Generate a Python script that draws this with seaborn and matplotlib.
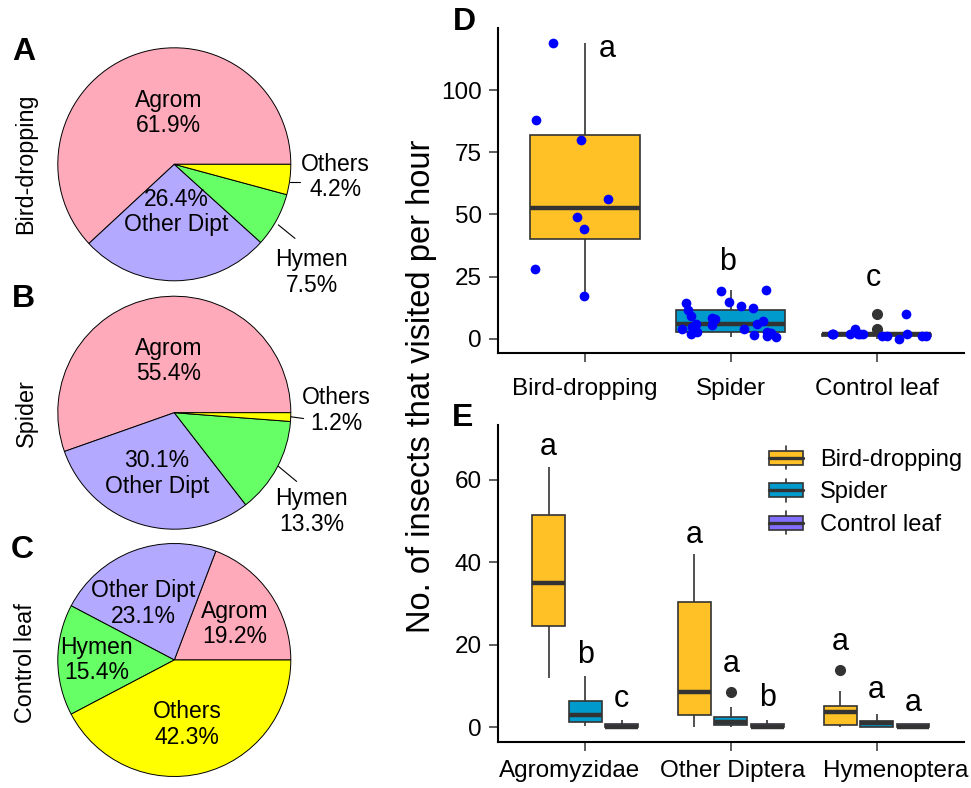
import numpy as np
import pandas as pd
import matplotlib
matplotlib.use("Agg")
import matplotlib.pyplot as plt
import matplotlib.transforms as mtransforms
import seaborn as sns
from matplotlib.patches import Rectangle
from matplotlib.lines import Line2D
from matplotlib.legend_handler import HandlerBase

sns.set_theme(style="ticks")
plt.rcParams["font.family"] = ["Liberation Sans", "DejaVu Sans"]
plt.rcParams.update({"text.color": "black", "axes.labelcolor": "black",
                     "xtick.color": "black", "ytick.color": "black"})

# ---------------- data ----------------
pie_groups = ["Agrom", "Other Dipt", "Hymen", "Others"]
pie_colors = ["#FFAABB", "#B3AAFF", "#66FF66", "#FFFF00"]
pct_bird = [61.9, 26.4, 7.5, 4.2]
pct_spider = [55.4, 30.1, 13.3, 1.2]
pct_control = [19.2, 23.1, 15.4, 42.3]

treatments = ["Bird-dropping", "Spider", "Control leaf"]
treat_colors = ["#FFC125", "#009ACD", "#836FFF"]

# total insects visiting per hour, one value per replicate
total_bird = [119, 88, 80, 56, 49, 44, 28, 17]
total_spider = [0.5, 1, 1.5, 2, 2.4, 2.6, 2.8, 4, 4, 4.5, 5.6, 5.9,
                6, 7.1, 7.9, 8.2, 9, 11.4, 12.2, 13, 14.3, 14.7, 19.3, 19.7]
total_control = [0, 1, 1, 1, 1, 2, 2, 2, 2, 2, 2, 2, 2, 4, 10]
letters_total = ["a", "b", "c"]

# visits per hour split by taxon
taxa = ["Agromyzidae", "Other Diptera", "Hymenoptera"]
agrom_bird = [12, 20, 26, 33, 37, 49, 59, 63]
agrom_spider = [0.4, 0.5, 0.8, 1.0, 1.1, 1.2, 1.4, 1.7, 2.0, 2.4, 2.8, 3.0,
                3.2, 3.6, 4.0, 4.6, 5.2, 6.0, 7.2, 8.0, 9.0, 10.0, 11.2, 12.4]
agrom_control = [0, 0, 0, 0, 0, 0, 0, 0, 0.4, 0.6, 0.9, 1.0, 1.4, 1.8]
dipt_bird = [0, 2, 3.2, 6, 11, 28, 38, 42]
dipt_spider = [0, 0, 0.2, 0.3, 0.4, 0.5, 0.6, 0.9, 1.0, 1.1, 1.2, 1.2,
               1.4, 1.5, 1.7, 1.9, 2.2, 2.4, 2.8, 3.0, 3.4, 4.0, 4.9, 8.5]
dipt_control = [0, 0, 0, 0, 0, 0, 0, 0, 0.3, 0.6, 0.9, 1.1, 1.3, 1.7]
hymen_bird = [0, 0, 0.8, 3.7, 3.9, 3.9, 8.8, 14]
hymen_spider = [0, 0, 0, 0, 0, 0, 0.2, 0.4, 0.6, 0.8, 0.9, 1.0,
                1.0, 1.1, 1.2, 1.3, 1.3, 1.4, 1.6, 1.8, 2.0, 2.4, 2.8, 3.2]
hymen_control = [0, 0, 0, 0, 0, 0, 0, 0, 0.2, 0.6, 0.8, 0.8, 0.8, 0.8]
letters_taxa = [["a", "b", "c"], ["a", "a", "b"], ["a", "a", "a"]]

# ---------------- layout helpers ----------------
W, H = 971, 788
EDGE = "#333333"
fig = plt.figure(figsize=(W / 100, H / 100), dpi=100)
fig.patch.set_facecolor("white")


def px_box(left, top, width, height):
    return [left / W, 1 - (top + height) / H, width / W, height / H]


def fig_text(x, y, s, **kw):
    fig.text(x / W, 1 - y / H, s, **kw)


# ---------------- pies (A-C) ----------------
R = 116.5
pie_specs = [
    (164.3, pct_bird, [
        ("Agrom\n61.9%", -0.05, 0.44),
        ("26.4%\nOther Dipt", 0.015, -0.41),
        ("Others\n4.2%", 1.38, -0.11),
        ("Hymen\n7.5%", 1.18, -0.93)],
     [((0.993, -0.155), (1.08, -0.155)), ((0.893, -0.52), (1.036, -0.636))]),
    (412.7, pct_spider, [
        ("Agrom\n55.4%", -0.05, 0.445),
        ("30.1%\nOther Dipt", -0.15, -0.52),
        ("Others\n1.2%", 1.39, 0.016),
        ("Hymen\n13.3%", 1.18, -0.85)],
     [((1.0, -0.035), (1.11, -0.05)), ((0.893, -0.46), (1.05, -0.59))]),
    (660.0, pct_control, [
        ("Other Dipt\n23.1%", -0.266, 0.483),
        ("Agrom\n19.2%", 0.52, 0.31),
        ("Hymen\n15.4%", -0.666, 0.0),
        ("Others\n42.3%", 0.11, -0.554)],
     []),
]
for cy, pcts, labels, leaders in pie_specs:
    cx = 174.3
    ax = fig.add_axes(px_box(cx - 1.02 * R, cy - 1.02 * R, 2.04 * R, 2.04 * R))
    ax.pie(pcts, colors=pie_colors, startangle=0, counterclock=True, radius=1,
           wedgeprops=dict(edgecolor="black", linewidth=0.7))
    ax.set_xlim(-1.02, 1.02)
    ax.set_ylim(-1.02, 1.02)
    ax.set_aspect("equal")
    ax.axis("off")
    for s, dx, dy in labels:
        ax.text(dx, dy, s, ha="center", va="center", fontsize=16.5,
                linespacing=1.15, clip_on=False)
    for (x1, y1), (x2, y2) in leaders:
        ax.plot([x1, x2], [y1, y2], color="black", lw=0.8, clip_on=False)

for s, (x, y) in zip(["A", "B", "C"], [(23.3, 52.5), (23, 299), (22.5, 549.5)]):
    fig_text(x, y, s, ha="center", va="center", fontsize=23, fontweight="bold")
for s, y in zip(treatments, [164, 413, 663]):
    fig_text(26, y, s, rotation=90, ha="center", va="center", fontsize=16.8)

# ---------------- panel D ----------------
dfD = pd.DataFrame({
    "treatment": (["Bird-dropping"] * len(total_bird) + ["Spider"] * len(total_spider)
                  + ["Control leaf"] * len(total_control)),
    "visits": total_bird + total_spider + total_control,
})
axD = fig.add_axes(px_box(497.7, 28.3, 964 - 497.7, 353.3 - 28.3))
sns.boxplot(data=dfD, x="treatment", y="visits", hue="treatment", order=treatments,
            hue_order=treatments, palette=treat_colors, saturation=1, width=0.75,
            linecolor=EDGE, linewidth=1.2, showcaps=False, legend=False,
            flierprops=dict(marker="o", markerfacecolor=EDGE, markeredgecolor=EDGE,
                            markersize=7),
            medianprops=dict(linewidth=3.2), ax=axD)
np.random.seed(11)
sns.stripplot(data=dfD, x="treatment", y="visits", order=treatments, color="#0000FF",
              size=7, jitter=0.35, linewidth=0, zorder=5, ax=axD)
axD.set_xlim(-0.6, 2.6)
axD.set_ylim(-5.9, 124.9)
axD.set_yticks([0, 25, 50, 75, 100])
for i, (dx, y, s) in enumerate(zip([0.15, -0.02, -0.02], [113.4, 27.7, 21.3],
                                   letters_total)):
    axD.text(i + dx, y, s, ha="center", va="baseline", fontsize=22)

# ---------------- panel E ----------------
taxon_values = [
    (agrom_bird, agrom_spider, agrom_control),
    (dipt_bird, dipt_spider, dipt_control),
    (hymen_bird, hymen_spider, hymen_control),
]
rows = []
for taxon, trio in zip(taxa, taxon_values):
    for treat, vals in zip(treatments, trio):
        rows += [(taxon, treat, v) for v in vals]
dfE = pd.DataFrame(rows, columns=["taxon", "treatment", "visits"])

axE = fig.add_axes(px_box(497.7, 425, 964 - 497.7, 742.3 - 425))
sns.boxplot(data=dfE, x="taxon", y="visits", hue="treatment", order=taxa,
            hue_order=treatments, palette=treat_colors, saturation=1, width=0.75,
            gap=0.1, linecolor=EDGE, linewidth=1.2, showcaps=False, legend=False,
            flierprops=dict(marker="o", markerfacecolor=EDGE, markeredgecolor=EDGE,
                            markersize=7),
            medianprops=dict(linewidth=3.2), ax=axE)
axE.set_xlim(-0.6, 2.6)
axE.set_ylim(-3.6, 73.3)
axE.set_yticks([0, 20, 40, 60])
baselines = [[66.1, 15.6, 5.0], [44.7, 13.5, 5.2], [18.8, 7.1, 4.1]]
for i, (lets, ys) in enumerate(zip(letters_taxa, baselines)):
    for j, (s, y) in enumerate(zip(lets, ys)):
        axE.text(i + (j - 1) * 0.25, y, s, ha="center", va="baseline", fontsize=22)

for ax, pad in [(axD, 11), (axE, 6.5)]:
    ax.set_xlabel("")
    ax.set_ylabel("")
    sns.despine(ax=ax)
    for side in ["left", "bottom"]:
        ax.spines[side].set_linewidth(1.5)
        ax.spines[side].set_color("black")
    ax.tick_params(axis="both", length=6.5, width=1.1, color=EDGE, labelsize=17.5,
                   labelcolor="black")
    ax.tick_params(axis="x", pad=pad)
    ax.tick_params(axis="y", pad=5)

# spread the taxon names apart so the long labels do not touch
for lab, shift in zip(axE.get_xticklabels(), [-16, 2, 19]):
    lab.set_transform(lab.get_transform()
                      + mtransforms.ScaledTranslation(shift / 100, 0, fig.dpi_scale_trans))

fig_text(464, 21.7, "D", ha="center", va="center", fontsize=23, fontweight="bold")
fig_text(463, 418, "E", ha="center", va="center", fontsize=23, fontweight="bold")
fig_text(421, 386, "No. of insects that visited per hour", rotation=90,
         ha="center", va="center", fontsize=23.5)


# legend keys drawn as small box-and-whisker glyphs
class BoxKey(HandlerBase):
    def create_artists(self, legend, orig_handle, xdescent, ydescent, width, height,
                       fontsize, trans):
        x0, y0 = -xdescent, -ydescent
        cx = x0 + width / 2
        lo, hi = y0 + 0.2 * height, y0 + 0.8 * height
        arts = [
            Line2D([cx, cx], [y0, lo], color=EDGE, lw=1.2),
            Line2D([cx, cx], [hi, y0 + height], color=EDGE, lw=1.2),
            Rectangle((x0, lo), width, hi - lo, facecolor=orig_handle.get_facecolor(),
                      edgecolor=EDGE, lw=1.2),
            Line2D([x0, x0 + width], [(lo + hi) / 2] * 2, color=EDGE, lw=2.4),
        ]
        for a in arts:
            a.set_transform(trans)
        return arts


handles = [Rectangle((0, 0), 1, 1, facecolor=c) for c in treat_colors]
fig.legend(handles, treatments, handler_map={Rectangle: BoxKey()}, loc="upper left",
           bbox_to_anchor=(769 / W, 1 - 446 / H), bbox_transform=fig.transFigure,
           frameon=False, fontsize=17, handlelength=1.45, handleheight=1.15,
           handletextpad=0.72, labelspacing=0.33, borderpad=0, borderaxespad=0)

fig.savefig("out.png", dpi=100, facecolor="white")
